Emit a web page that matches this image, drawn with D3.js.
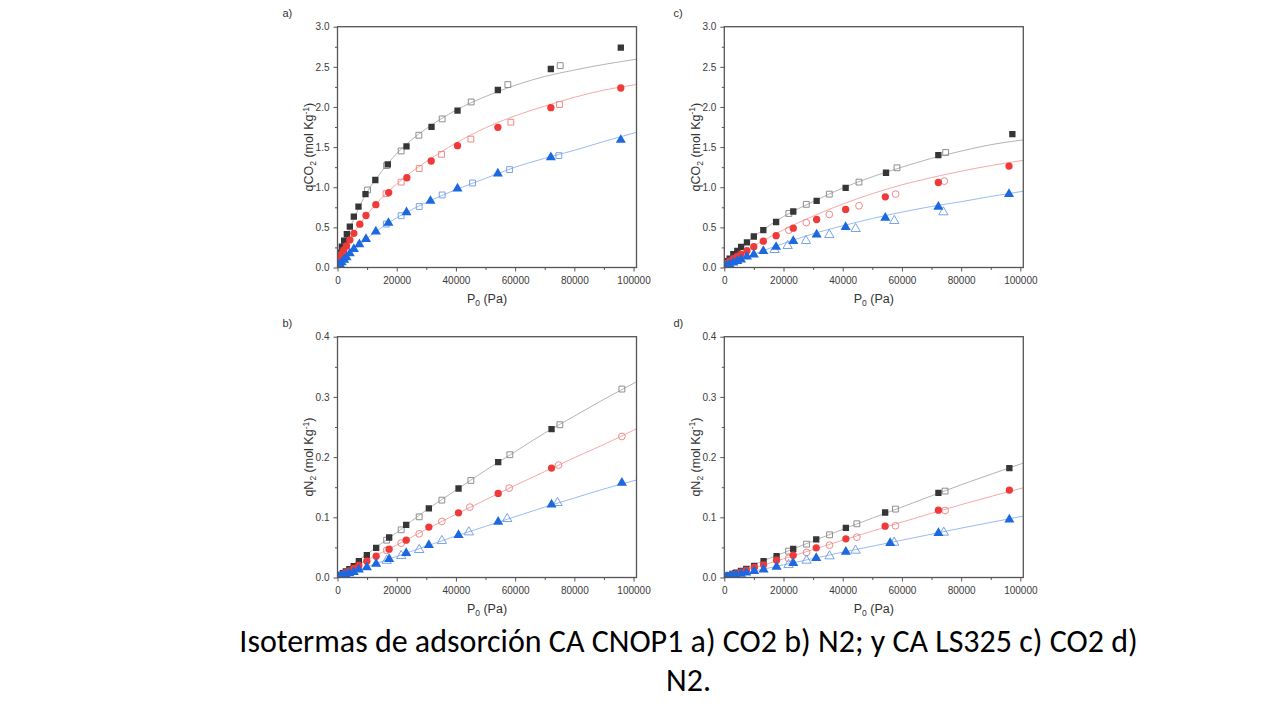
<!DOCTYPE html>
<html><head><meta charset="utf-8">
<script src="https://cdn.jsdelivr.net/npm/d3@7"></script>
<style>body{margin:0;background:#fff;overflow:hidden}</style>
</head><body>
<svg id="chart" width="1280" height="720"></svg>
<script>
// ---------- tick labels ----------
const xTicks = [0, 20000, 40000, 60000, 80000, 100000];
const xMinor = [10000, 30000, 50000, 70000, 90000];
const yTicksCO2 = [0, 0.5, 1.0, 1.5, 2.0, 2.5, 3.0];
const yMinorCO2 = [0.25, 0.75, 1.25, 1.75, 2.25, 2.75];
const yTicksN2 = [0, 0.1, 0.2, 0.3, 0.4];
const yMinorN2 = [0.05, 0.15, 0.25, 0.35];
const panelLetters = ["a)", "b)", "c)", "d)"];
const gasNames = ["CO", "N", "CO", "N"];
const captionLines = ["Isotermas de adsorción CA CNOP1 a) CO2 b) N2; y CA LS325 c) CO2 d)", "N2."];

// ---------- panel a: CNOP1 CO2 [P (Pa), q (mol/kg)] ----------
const aBlackAds = [[250,0.10],[790,0.185],[1460,0.26],[2250,0.335],[3150,0.414],[4170,0.509],[5520,0.634],[7090,0.758],[9460,0.914],[12780,1.09],[17000,1.284],[23310,1.51],[31760,1.751],[40540,1.954],[54170,2.211],[72070,2.473],[95700,2.739]];
const aBlackDes = [[75220,2.515],[57540,2.279],[45160,2.062],[35360,1.851],[27480,1.648],[21500,1.452],[16600,1.27],[10140,0.966]];
const aRedAds = [[400,0.09],[800,0.13],[1350,0.17],[2140,0.219],[3040,0.268],[4170,0.343],[5520,0.426],[7540,0.54],[9620,0.648],[12950,0.783],[17300,0.933],[23430,1.118],[31650,1.327],[40540,1.518],[54170,1.746],[72070,1.991],[95700,2.236]];
const aRedDes = [[75000,2.03],[58560,1.81],[45050,1.60],[35140,1.41],[27600,1.233],[21500,1.064],[16400,0.92]];
const aBlueAds = [[300,0.02],[800,0.04],[1400,0.065],[2250,0.095],[3040,0.128],[4170,0.175],[5520,0.229],[7380,0.289],[9620,0.355],[12950,0.447],[17200,0.555],[23310,0.686],[31400,0.829],[40540,0.983],[54170,1.17],[72070,1.373],[95700,1.589]];
const aBlueDes = [[74770,1.394],[58110,1.22],[45610,1.053],[35360,0.904],[27600,0.76],[21500,0.645],[16500,0.541]];
const aBlackFit = [[0,0.06],[2000,0.27],[5000,0.56],[10000,0.94],[15000,1.2],[20000,1.42],[25000,1.59],[30000,1.73],[40000,1.96],[50000,2.13],[60000,2.27],[70000,2.38],[80000,2.46],[90000,2.53],[101000,2.595]];
const aRedFit = [[0,0.05],[2000,0.2],[5000,0.4],[10000,0.66],[15000,0.87],[20000,1.04],[25000,1.19],[30000,1.32],[40000,1.55],[50000,1.74],[60000,1.89],[70000,2.01],[80000,2.12],[90000,2.21],[101000,2.28]];
const aBlueFit = [[0,0.0],[2000,0.08],[5000,0.19],[10000,0.36],[15000,0.5],[20000,0.62],[25000,0.72],[30000,0.81],[40000,0.97],[50000,1.11],[60000,1.25],[70000,1.36],[80000,1.46],[90000,1.57],[101000,1.685]];

// ---------- panel b: CNOP1 N2 ----------
const bBlackAds = [[300,0.002],[900,0.004],[1800,0.007],[2800,0.010],[4000,0.014],[5500,0.019],[7210,0.0271],[9910,0.0371],[13060,0.0493],[17450,0.0665],[23200,0.0875],[30860,0.1147],[40880,0.1479],[54280,0.1917],[72300,0.2465]];
const bBlackDes = [[96060,0.313],[75110,0.2537],[58220,0.2039],[45050,0.1612],[35250,0.1285],[27590,0.1008],[21510,0.0792],[16600,0.062]];
const bRedAds = [[300,0.001],[900,0.003],[1800,0.005],[2800,0.008],[4000,0.011],[5500,0.015],[7210,0.020],[9910,0.0271],[13060,0.0355],[17450,0.0471],[23200,0.062],[30860,0.0837],[40880,0.1075],[54280,0.1396],[72300,0.1817]];
const bRedDes = [[96060,0.2343],[74660,0.1867],[57990,0.1485],[44710,0.1169],[35250,0.0931],[27590,0.0726],[21510,0.0571],[16600,0.045]];
const bBlueAds = [[300,0.001],[900,0.002],[1800,0.003],[2800,0.005],[4000,0.007],[5500,0.009],[7210,0.013],[9910,0.017],[13060,0.0227],[17450,0.0305],[23200,0.0404],[30860,0.0537],[40880,0.0704],[54280,0.0925],[72300,0.1213],[96060,0.1573]];
const bBlueDes = [[74320,0.1241],[57320,0.0975],[44370,0.0753],[35250,0.0609],[27590,0.046],[21510,0.036],[16600,0.028]];
const bBlackFit = [[0,0.003],[10000,0.039],[20000,0.075],[30000,0.112],[40000,0.145],[50000,0.178],[60000,0.209],[70000,0.240],[80000,0.268],[90000,0.296],[101000,0.325]];
const bRedFit = [[0,0.002],[10000,0.029],[20000,0.054],[30000,0.08],[40000,0.105],[50000,0.129],[60000,0.153],[70000,0.176],[80000,0.199],[90000,0.221],[101000,0.247]];
const bBlueFit = [[0,0.001],[10000,0.018],[20000,0.035],[30000,0.052],[40000,0.069],[50000,0.085],[60000,0.101],[70000,0.117],[80000,0.132],[90000,0.147],[101000,0.162]];

// ---------- panel c: LS325 CO2 ----------
const cBlackAds = [[300,0.05],[900,0.08],[1800,0.11],[3040,0.166],[4390,0.208],[5680,0.258],[7650,0.314],[9970,0.386],[13180,0.465],[17500,0.567],[23300,0.698],[31190,0.831],[40990,0.993],[54620,1.18],[72300,1.40],[97300,1.662]];
const cBlackDes = [[74770,1.433],[58330,1.242],[45500,1.064],[35470,0.914],[27700,0.787],[21800,0.673]];
const cRedAds = [[300,0.03],[900,0.05],[1800,0.08],[3040,0.11],[4390,0.137],[5630,0.166],[7650,0.21],[9970,0.26],[13180,0.328],[17500,0.397],[23300,0.49],[31190,0.598],[40990,0.723],[54390,0.881],[72300,1.059],[96170,1.263]];
const cRedDes = [[74320,1.076],[57880,0.914],[45500,0.769],[35470,0.661],[27700,0.559],[21800,0.465]];
const cBlueAds = [[300,0.01],[900,0.02],[1800,0.04],[3040,0.06],[4390,0.08],[5630,0.10],[7650,0.135],[9970,0.162],[13180,0.204],[17500,0.256],[23300,0.33],[31190,0.411],[40990,0.503],[54390,0.619],[72300,0.756],[96170,0.914]];
const cBlueDes = [[74000,0.69],[57430,0.582],[44370,0.482],[35470,0.407],[27590,0.332],[21400,0.27],[17000,0.22]];
const cBlackFit = [[0,0.06],[3000,0.165],[6000,0.265],[10000,0.385],[20000,0.635],[30000,0.82],[40000,0.99],[50000,1.13],[60000,1.25],[70000,1.36],[80000,1.45],[90000,1.53],[101000,1.59]];
const cRedFit = [[0,0.04],[3000,0.11],[6000,0.18],[10000,0.27],[20000,0.47],[30000,0.64],[40000,0.79],[50000,0.92],[60000,1.03],[70000,1.12],[80000,1.2],[90000,1.27],[101000,1.335]];
const cBlueFit = [[0,0.02],[5000,0.09],[10000,0.165],[20000,0.3],[30000,0.42],[40000,0.52],[50000,0.61],[60000,0.69],[70000,0.76],[80000,0.82],[90000,0.885],[101000,0.95]];

// ---------- panel d: LS325 N2 ----------
const dBlackAds = [[300,0.001],[900,0.002],[1800,0.004],[2800,0.006],[4000,0.008],[5620,0.0111],[7420,0.0144],[10120,0.0194],[13270,0.0271],[17660,0.0355],[23280,0.0476],[31050,0.0632],[41060,0.0825],[54330,0.108],[72330,0.1407],[96290,0.1817]];
const dBlackDes = [[74580,0.1435],[57820,0.1136],[44770,0.0892],[35550,0.0709],[27780,0.0554],[21710,0.0438]];
const dRedAds = [[300,0.001],[900,0.002],[1800,0.003],[2800,0.005],[4000,0.006],[5620,0.009],[7420,0.012],[10120,0.0166],[13270,0.021],[17660,0.0288],[23280,0.0371],[31050,0.0493],[41060,0.0643],[54330,0.0853],[72330,0.1119],[96290,0.1452]];
const dRedDes = [[74580,0.1114],[57820,0.0859],[44770,0.067],[35550,0.0537],[27780,0.0416],[21710,0.0316]];
const dBlueAds = [[300,0.0005],[900,0.001],[1800,0.002],[2800,0.003],[4000,0.004],[5620,0.006],[7420,0.008],[10120,0.0105],[13270,0.0133],[17660,0.0177],[23280,0.0238],[31050,0.0321],[41060,0.0427],[56020,0.0571],[72330,0.0737],[96290,0.0964]];
const dBlueDes = [[74130,0.0748],[57370,0.0582],[44320,0.0449],[35550,0.0355],[27780,0.0283],[21710,0.021]];
const dBlackFit = [[0,0.002],[20000,0.041],[40000,0.08],[60000,0.117],[80000,0.154],[101000,0.19]];
const dRedFit = [[0,0.001],[20000,0.031],[40000,0.062],[60000,0.092],[80000,0.121],[101000,0.149]];
const dBlueFit = [[0,0.0],[20000,0.021],[40000,0.042],[60000,0.062],[80000,0.082],[101000,0.102]];

// ---------- styling ----------
const colors = {
  black: {fill:"#363636", open:"#8e8e8e", line:"#b4b4b4"},
  red:   {fill:"#f03a3a", open:"#f08888", line:"#f6a8a8"},
  blue:  {fill:"#1c68df", open:"#78a2ea", line:"#98bcef"}
};
const shapes = {square: d3.symbolSquare, circle: d3.symbolCircle, triangle: d3.symbolTriangle};
const shapeSize = {square: 40, circle: 42, triangle: 44};

const panels = [
  {letter:panelLetters[0], gas:gasNames[0], left:337.5, top:26.7, yMax:3.0, yTicks:yTicksCO2, yMinor:yMinorCO2, letterX:282.5,
   series:[
     {c:"black", ads:aBlackAds, des:aBlackDes, fit:aBlackFit, sa:"square", sd:"square"},
     {c:"red", ads:aRedAds, des:aRedDes, fit:aRedFit, sa:"circle", sd:"square"},
     {c:"blue", ads:aBlueAds, des:aBlueDes, fit:aBlueFit, sa:"triangle", sd:"square"}]},
  {letter:panelLetters[1], gas:gasNames[1], left:337.5, top:336.7, yMax:0.4, yTicks:yTicksN2, yMinor:yMinorN2, letterX:282.5,
   series:[
     {c:"black", ads:bBlackAds, des:bBlackDes, fit:bBlackFit, sa:"square", sd:"square"},
     {c:"red", ads:bRedAds, des:bRedDes, fit:bRedFit, sa:"circle", sd:"circle"},
     {c:"blue", ads:bBlueAds, des:bBlueDes, fit:bBlueFit, sa:"triangle", sd:"triangle"}]},
  {letter:panelLetters[2], gas:gasNames[2], left:724.3, top:26.7, yMax:3.0, yTicks:yTicksCO2, yMinor:yMinorCO2, letterX:673.5,
   series:[
     {c:"black", ads:cBlackAds, des:cBlackDes, fit:cBlackFit, sa:"square", sd:"square"},
     {c:"red", ads:cRedAds, des:cRedDes, fit:cRedFit, sa:"circle", sd:"circle"},
     {c:"blue", ads:cBlueAds, des:cBlueDes, fit:cBlueFit, sa:"triangle", sd:"triangle"}]},
  {letter:panelLetters[3], gas:gasNames[3], left:724.3, top:336.7, yMax:0.4, yTicks:yTicksN2, yMinor:yMinorN2, letterX:673.5,
   series:[
     {c:"black", ads:dBlackAds, des:dBlackDes, fit:dBlackFit, sa:"square", sd:"square"},
     {c:"red", ads:dRedAds, des:dRedDes, fit:dRedFit, sa:"circle", sd:"circle"},
     {c:"blue", ads:dBlueAds, des:dBlueDes, fit:dBlueFit, sa:"triangle", sd:"triangle"}]}
];

const W = 299, H = 240.8;
const FONT = "'Liberation Sans', Arial, Helvetica, sans-serif";
const svg = d3.select("#chart");
svg.append("rect").attr("width",1280).attr("height",720).attr("fill","#fff");

panels.forEach((p, i) => {
  const g = svg.append("g").attr("transform", `translate(${p.left},${p.top})`);
  const x = d3.scaleLinear().domain([0, 101000]).range([0, W]);
  const y = d3.scaleLinear().domain([0, p.yMax]).range([H, 0]);

  const clipId = "clip" + i;
  g.append("clipPath").attr("id", clipId).append("rect").attr("width", W).attr("height", H);

  const styleAxis = sel => {
    sel.select(".domain").remove();
    sel.selectAll("line").attr("stroke", "#555").attr("stroke-width", 1);
    sel.selectAll("text").attr("fill", "#3a3a3a").attr("font-size", 10).attr("font-family", FONT);
  };
  g.append("g").attr("transform", `translate(0,${H})`)
    .call(d3.axisBottom(x).tickValues(xMinor).tickSize(2.5).tickFormat("")).call(styleAxis);
  g.append("g").attr("transform", `translate(0,${H})`)
    .call(d3.axisBottom(x).tickValues(xTicks).tickSize(4).tickPadding(5).tickFormat(d3.format("d"))).call(styleAxis);
  g.append("g").call(d3.axisLeft(y).tickValues(p.yMinor).tickSize(2.5).tickFormat("")).call(styleAxis);
  g.append("g").call(d3.axisLeft(y).tickValues(p.yTicks).tickSize(4).tickPadding(4).tickFormat(d3.format(".1f"))).call(styleAxis);

  const line = d3.line().x(d => x(d[0])).y(d => y(d[1])).curve(d3.curveMonotoneX);
  const plot = g.append("g").attr("clip-path", `url(#${clipId})`);
  p.series.forEach(s => {
    plot.append("path").datum(s.fit).attr("d", line)
      .attr("fill", "none").attr("stroke", colors[s.c].line).attr("stroke-width", 1);
  });
  p.series.forEach(s => {
    plot.selectAll(null).data(s.des).enter().append("path")
      .attr("transform", d => `translate(${x(d[0])},${y(d[1])})`)
      .attr("d", d3.symbol().type(shapes[s.sd]).size(shapeSize[s.sd] - 6))
      .attr("fill", "none").attr("stroke", colors[s.c].open).attr("stroke-width", 1);
  });
  p.series.forEach(s => {
    plot.selectAll(null).data(s.ads).enter().append("path")
      .attr("transform", d => `translate(${x(d[0])},${y(d[1])})`)
      .attr("d", d3.symbol().type(shapes[s.sa]).size(shapeSize[s.sa]))
      .attr("fill", colors[s.c].fill);
  });

  g.append("rect").attr("width", W).attr("height", H)
    .attr("fill", "none").attr("stroke", "#555").attr("stroke-width", 1.3);

  const xt = g.append("text").attr("x", W / 2).attr("y", H + 35.5)
    .attr("text-anchor", "middle").attr("font-family", FONT).attr("font-size", 12.5).attr("fill", "#333");
  xt.append("tspan").text("P");
  xt.append("tspan").attr("font-size", 8.5).attr("dy", 3).text("0");
  xt.append("tspan").attr("dy", -3).text(" (Pa)");

  const yt = g.append("text").attr("transform", `translate(-24.5,${H / 2}) rotate(-90)`)
    .attr("text-anchor", "middle").attr("font-family", FONT).attr("font-size", 12.5).attr("fill", "#333");
  yt.append("tspan").text("q" + p.gas);
  yt.append("tspan").attr("font-size", 8.5).attr("dy", 3).text("2");
  yt.append("tspan").attr("dy", -3).text(" (mol Kg");
  yt.append("tspan").attr("font-size", 8.5).attr("dy", -4.5).text("-1");
  yt.append("tspan").attr("dy", 4.5).text(")");

  svg.append("text").attr("x", p.letterX).attr("y", p.top - 9.5)
    .attr("font-family", FONT).attr("font-size", 11).attr("fill", "#333").text(p.letter);
});

// caption
const capFont = "Carlito, 'Open Sans', Lato, sans-serif";
svg.append("text").attr("x", 688.5).attr("y", 652).attr("text-anchor", "middle")
  .attr("font-family", capFont).attr("font-size", 32).attr("fill", "#000")
  .text(captionLines[0]);
svg.append("text").attr("x", 688.5).attr("y", 690.5).attr("text-anchor", "middle")
  .attr("font-family", capFont).attr("font-size", 32).attr("fill", "#000")
  .text(captionLines[1]);
</script>
</body></html>
